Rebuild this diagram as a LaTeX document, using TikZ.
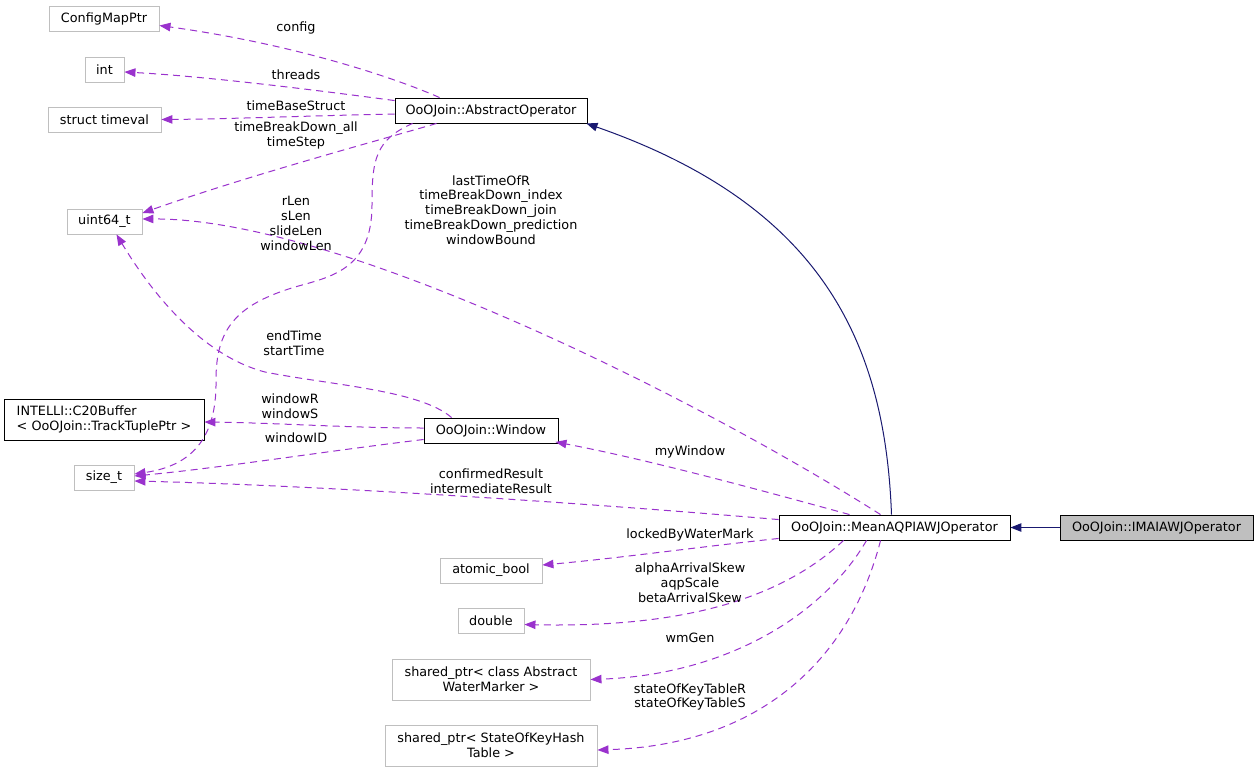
\documentclass[tikz,border=0pt]{standalone}
\usepackage{fontspec}
\setmainfont{DejaVu Sans}
\usetikzlibrary{arrows.meta,calc}
\definecolor{depc}{HTML}{9A32CD}
\definecolor{inhc}{HTML}{191970}
\definecolor{extb}{HTML}{BFBFBF}
\begin{document}
\begin{tikzpicture}[x=1pt,y=-1pt, font=\fontsize{12.8}{14.8}\selectfont,
 box/.style={draw=black, line width=0.9pt, fill=white, inner sep=0pt, minimum height=25pt},
 ext/.style={box, draw=extb},
 dep/.style={draw=depc, line width=1pt, dash pattern=on 7pt off 5pt, -{Triangle[length=11pt,width=8.5pt]}},
 inh/.style={draw=inhc, line width=1pt, -{Triangle[length=11pt,width=8.5pt]}},
 lab/.style={align=center, inner sep=0pt}]
\path[fill=white, use as bounding box] (0,0) rectangle (1259,771);
% nodes
\node[ext, minimum width=110pt] (cfg) at (104,18.5) {ConfigMapPtr};
\node[ext, minimum width=39pt] (int) at (104.5,69.5) {int};
\node[ext, minimum width=113pt] (tv) at (104.5,119.5) {struct timeval};
\node[ext, minimum width=75pt] (u64) at (104.5,221.5) {uint64\_t};
\node[box, minimum width=192pt] (ao) at (491,110.5) {OoOJoin::AbstractOperator};
\node[box, minimum width=200pt, minimum height=41pt, align=left, inner xsep=10pt] (c20) at (104,419.5) {INTELLI::C20Buffer\\< OoOJoin::TrackTuplePtr >};
\node[ext, minimum width=60pt] (st) at (104,477.5) {size\_t};
\node[box, minimum width=134pt] (win) at (491,430.5) {OoOJoin::Window};
\node[ext, minimum width=102pt] (ab) at (491,570.5) {atomic\_bool};
\node[ext, minimum width=66pt] (dbl) at (491,620.5) {double};
\node[ext, minimum width=198pt, minimum height=41pt, align=center] (wm) at (491,679.5) {shared\_ptr< class Abstract\\WaterMarker >};
\node[ext, minimum width=212pt, minimum height=41pt, align=center] (sk) at (491,745.5) {shared\_ptr< StateOfKeyHash\\Table >};
\node[box, minimum width=231pt] (mean) at (894.5,527.5) {OoOJoin::MeanAQPIAWJOperator};
\node[box, fill=extb, minimum width=193pt] (imai) at (1156.5,527.5) {OoOJoin::IMAIAWJOperator};
% dependency edges
\draw[dep] ([xshift=45pt]ao.north west) .. controls (400,80) and (300,45) .. ([yshift=-7pt]cfg.east);
\draw[dep] ([yshift=-3pt]ao.north west) .. controls (300,88) and (200,76) .. ([yshift=-2.5pt]int.east);
\draw[dep] ([yshift=-3.5pt]ao.west) .. controls (300,116) and (230,119) .. (tv.east);
\draw[dep] ([xshift=42pt]ao.south west) .. controls (380,140) and (250,175) .. ([yshift=8.5pt]u64.east);
\draw[dep] ([xshift=18pt]ao.south west) .. controls (375,140) and (372,160) .. (372,205)
  .. controls (372,270) and (330,277) .. (295,287) .. controls (235,305) and (216,330) .. (216,380)
  .. controls (217,440) and (190,466) .. ([yshift=3.5pt]st.east);
\draw[dep] ([xshift=-14pt]mean.north) .. controls (700,400) and (340,218) .. ([yshift=2.5pt]u64.east);
\draw[dep] ([xshift=28pt]win.north west) .. controls (420,390) and (330,385) .. (265,372)
  .. controls (200,355) and (150,290) .. ([xshift=12pt]u64.south);
\draw[dep] ([yshift=2.5pt]win.west) .. controls (350,428) and (280,423) .. ([yshift=-2.5pt]c20.east);
\draw[dep] ([yshift=-9pt]win.west) .. controls (320,452) and (220,468) .. ([yshift=1.5pt]st.east);
\draw[dep] ([xshift=-45pt]mean.north) .. controls (760,490) and (650,460) .. ([xshift=-3pt,yshift=1.5pt]win.south east);
\draw[dep] ([yshift=-5pt]mean.north west) .. controls (550,500) and (300,485) .. ([yshift=-3.5pt]st.east);
\draw[dep] ([yshift=2pt]mean.south west) .. controls (690,548) and (620,558) .. ([yshift=5.5pt]ab.east);
\draw[dep] ([xshift=65pt]mean.south west) .. controls (780,600) and (680,628) .. ([yshift=-4pt]dbl.east);
\draw[dep] ([xshift=88pt]mean.south west) .. controls (820,620) and (720,675) .. (wm.east);
\draw[dep] ([xshift=102pt]mean.south west) .. controls (850,660) and (760,745) .. ([yshift=-4.5pt]sk.east);
% inheritance
\draw[inh] ([xshift=-3pt]mean.north) .. controls (885,340) and (820,205) .. ([xshift=-1pt]ao.south east);
\draw[inh] (imai.west) -- (mean.east);
% labels
\node[lab] (l1) at (296,28) {config};
\node[lab] (l2) at (296,75) {threads};
\node[lab] (l3) at (296,106) {timeBaseStruct};
\node[lab] (l4) at (296,135.5) {timeBreakDown\_all\\timeStep};
\node[lab] (l5) at (296,223.5) {rLen\\sLen\\slideLen\\windowLen};
\node[lab] (l6) at (491,210) {lastTimeOfR\\timeBreakDown\_index\\timeBreakDown\_join\\timeBreakDown\_prediction\\windowBound};
\node[lab] (l7) at (294,343) {endTime\\startTime};
\node[lab] (l8) at (290,406) {windowR\\windowS};
\node[lab] (l9) at (296,438) {windowID};
\node[lab] (l10) at (690,452) {myWindow};
\node[lab] (l11) at (491,481) {confirmedResult\\intermediateResult};
\node[lab] (l12) at (690,535) {lockedByWaterMark};
\node[lab] (l13) at (690,583) {alphaArrivalSkew\\aqpScale\\betaArrivalSkew};
\node[lab] (l14) at (690,638) {wmGen};
\node[lab] (l15) at (690,697) {stateOfKeyTableR\\stateOfKeyTableS};
\end{tikzpicture}
\end{document}
